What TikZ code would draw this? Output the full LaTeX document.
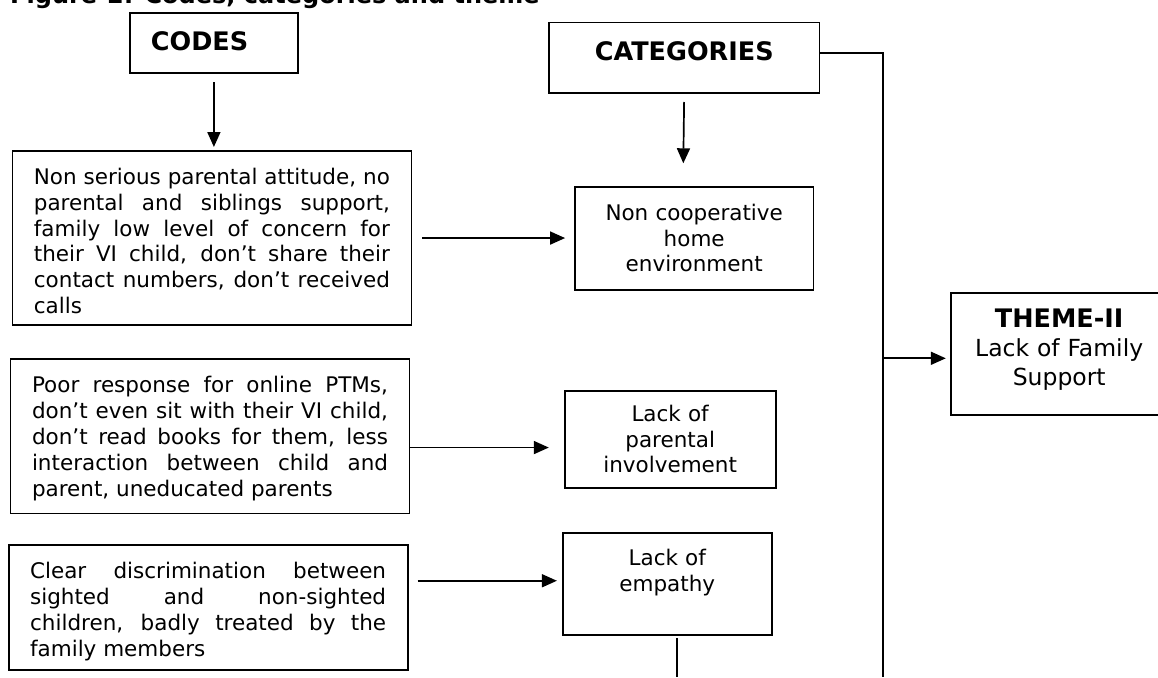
\documentclass[tikz,border=0pt]{standalone}
\usepackage{fontspec}
\setmainfont{DejaVu Sans}
\usetikzlibrary{arrows.meta}
\tolerance=9999
\hbadness=10000

\begin{document}
\begin{tikzpicture}[x=1pt,y=-1pt,
  box/.style={draw, line width=1.8pt, inner ysep=0pt, anchor=north west},
  headbox/.style={box, font=\fontsize{25.5}{30}\selectfont\bfseries, text height=37.5pt},
  codebox/.style={box, inner xsep=21.5pt, text width=356pt, align=justify, text height=33.3pt, font=\fontsize{21.5}{25.9}\selectfont},
  catbox/.style={box, inner xsep=0pt, align=center, font=\fontsize{21.5}{25.5}\selectfont},
  arr/.style={line width=1.7pt, -{Triangle[length=15pt,width=13pt]}},
  link/.style={line width=1.7pt}]
\useasboundingbox (0,0) rectangle (1158,677);
\clip (0,0) rectangle (1158,677);
\node[anchor=base west, inner sep=0pt, font=\fontsize{24}{24}\selectfont\bfseries] (title) at (10,3.5) {Figure-2: Codes, categories and theme}; % cut by top edge
\node[headbox, inner xsep=21pt, text width=126pt, align=left, text depth=22.7pt] (codes) at (129,12) {CODES};
\node[headbox, inner xsep=0pt, text width=270.6pt, align=center, text depth=33pt] (cats) at (548,21.7) {CATEGORIES};
\node[codebox, text depth=141pt] (code1) at (11.5,150) {Non serious parental attitude, no\linebreak parental and siblings support,\linebreak family low level of concern for\linebreak their VI child, don’t share their\linebreak contact numbers, don’t received\linebreak calls};
\node[codebox, text depth=121pt] (code2) at (9.6,358.3) {Poor response for online PTMs,\linebreak don’t even sit with their VI child,\linebreak don’t read books for them, less\linebreak interaction between child and\linebreak parent, uneducated parents};
\node[codebox, text depth=91.3pt] (code3) at (7.7,544.3) {Clear discrimination between\linebreak sighted and non-sighted\linebreak children, badly treated by the\linebreak family members};
\node[catbox, text width=238.4pt, text height=34pt, text depth=68.7pt] (cat1) at (574.1,186) {Non cooperative\\home\\environment};
\node[catbox, text width=210.9pt, text height=31pt, text depth=65.7pt] (cat2) at (563.8,390) {Lack of\\parental\\involvement};
\node[catbox, text width=209pt, text height=33pt, text depth=68.7pt] (cat3) at (561.9,532) {Lack of\\empathy};
\node[catbox, text width=217pt, text height=34.7pt, text depth=87pt, font=\fontsize{23.5}{29}\selectfont] (theme) at (949.8,292.3) {{\fontsize{25.5}{29}\selectfont\bfseries THEME-II}\\Lack of Family\\Support};
% arrows down from the heads
\coordinate (catsend) at (683.3,163.3);
\draw[arr, shorten <=8pt, shorten >=3pt] (codes.south) -- (codes.south |- code1.north);
\draw[arr, shorten <=8pt] (cats.south) -- (catsend);
% codes to categories
\draw[arr, shorten <=10pt, shorten >=9pt] (code1.east) -- (code1.east -| cat1.west);
\coordinate (a2) at ([yshift=-11.2pt]code2.east);
\draw[arr, shorten >=15pt] (a2) -- (a2 -| cat2.west);
\coordinate (a3) at ([yshift=3pt]cat3.west);
\draw[arr, shorten <=9pt, shorten >=5pt] (a3 -| code3.east) -- (a3);
% line to the theme
\coordinate (trunk) at (882.7,53.3);
\coordinate (trunkend) at (882.7,677);
\coordinate (tj) at (882.7,358.3);
\coordinate (e3) at (676.7,677);
\draw[link] (trunk -| cats.east) -- (trunk) -- (trunkend);
\draw[arr, shorten >=4pt] (tj) -- (tj -| theme.west);
\draw[link, shorten <=2.3pt] (e3 |- cat3.south) -- (e3);
\end{tikzpicture}
\end{document}
